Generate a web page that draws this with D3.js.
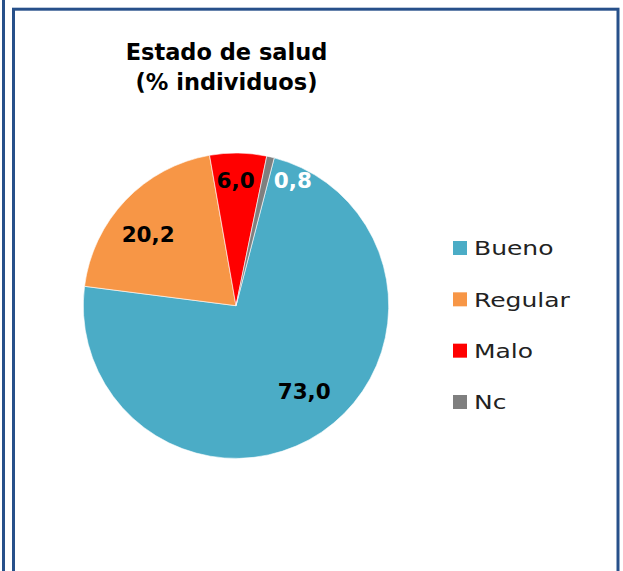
<!DOCTYPE html>
<html>
<head>
<meta charset="utf-8">
<script src="https://cdn.jsdelivr.net/npm/d3@7"></script>
<style>
  html, body { margin: 0; padding: 0; background: #ffffff; }
  svg { display: block; }
  text { font-family: "DejaVu Sans", "Liberation Sans", sans-serif; }
</style>
</head>
<body>
<svg id="chart" width="623" height="571"></svg>
<script>
// Estado de salud (% individuos)
const categories = ["Bueno", "Regular", "Malo", "Nc"];
const values = [73.0, 20.2, 6.0, 0.8];
const colors = ["#4bacc6", "#f79646", "#ff0000", "#7f7f7f"];
const labelColors = ["#000000", "#000000", "#000000", "#ffffff"];
const titleLines = ["Estado de salud", "(% individuos)"];

const W = 623, H = 571;
const svg = d3.select("#chart");

// panel frame (double rule on the left from the neighbouring panel)
svg.append("line")
  .attr("x1", 3.5).attr("x2", 3.5).attr("y1", 0).attr("y2", H)
  .attr("stroke", "#27508a").attr("stroke-width", 3);
svg.append("rect")
  .attr("x", 13.5).attr("y", 9.2).attr("width", 604.5).attr("height", H + 20)
  .attr("fill", "none").attr("stroke", "#27508a").attr("stroke-width", 3);

// title
const title = svg.append("text")
  .attr("text-anchor", "middle")
  .attr("font-weight", "bold")
  .attr("font-size", 22.5)
  .attr("fill", "#000");
titleLines.forEach((t, i) => {
  title.append("tspan").attr("x", 226.5).attr("y", 60 + i * 30).text(t);
});

// pie
const cx = 236, cy = 305.7, R = 152.7;
const startDeg = 14.5;
const pie = d3.pie().sort(null)
  .startAngle(startDeg * Math.PI / 180)
  .endAngle((startDeg + 360) * Math.PI / 180);
const arcs = pie(values);
const arc = d3.arc().innerRadius(0).outerRadius(R);
const labelArc = d3.arc().innerRadius(R * 0.75).outerRadius(R * 0.75);
// label nudges away from the centroid, in px
const nudge = [[4, -9], [-5, 7.5], [-2, -11], [31, -14]];

const g = svg.append("g").attr("transform", `translate(${cx},${cy})`);
g.selectAll("path").data(arcs).join("path")
  .attr("d", arc)
  .attr("fill", (d, i) => colors[i])
  .attr("stroke", "#ffffff").attr("stroke-width", 0.6);

const fmt = v => v.toFixed(1).replace(".", ",");
g.selectAll("text.lbl").data(arcs).join("text")
  .attr("class", "lbl")
  .attr("transform", (d, i) => {
    const c = labelArc.centroid(d);
    return `translate(${c[0] + nudge[i][0]},${c[1] + nudge[i][1]})`;
  })
  .attr("text-anchor", "middle")
  .attr("dy", "0.36em")
  .attr("font-weight", "bold")
  .attr("font-size", 21.5)
  .attr("fill", (d, i) => labelColors[i])
  .text(d => fmt(d.data));

// legend
const legendY = d3.scalePoint().domain(categories).range([248, 402]);
const lg = svg.append("g");
const item = lg.selectAll("g").data(categories).join("g")
  .attr("transform", d => `translate(453,${legendY(d)})`);
item.append("rect")
  .attr("x", 0).attr("y", -7).attr("width", 14).attr("height", 14)
  .attr("fill", (d, i) => colors[i]);
// wide sans face: widen the glyphs horizontally
item.append("text")
  .attr("transform", "translate(21,0) scale(1.25,1)")
  .attr("dy", "0.36em")
  .attr("font-size", 20)
  .attr("fill", "#222222")
  .text(d => d);
</script>
</body>
</html>
